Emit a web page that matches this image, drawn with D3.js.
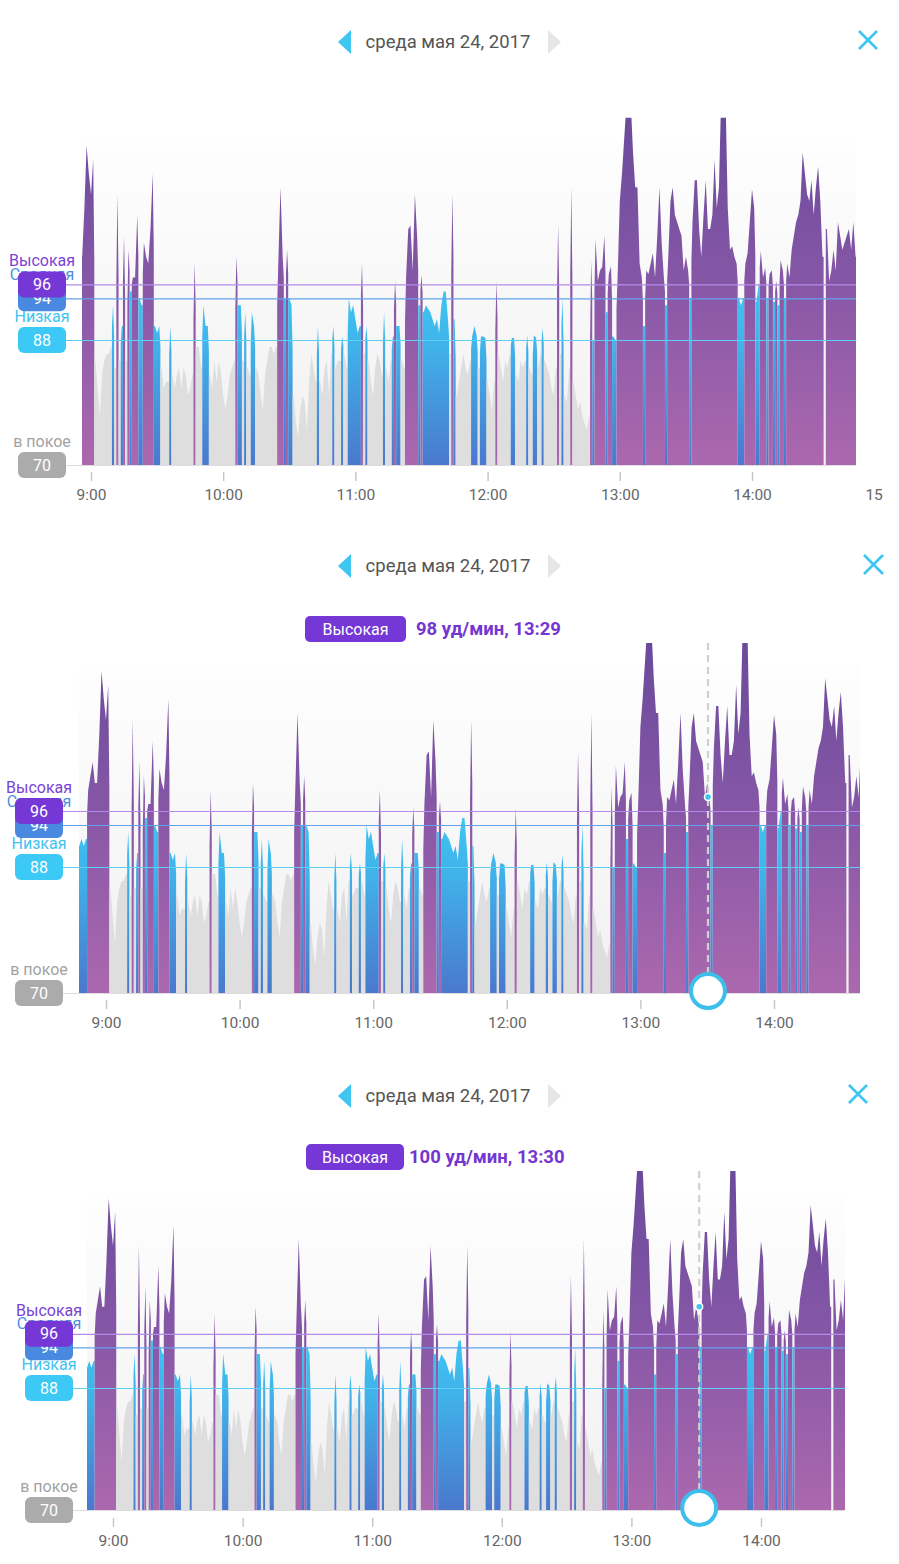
<!DOCTYPE html>
<html><head><meta charset="utf-8">
<script src="https://cdn.jsdelivr.net/npm/d3@7"></script>
<style>body{margin:0;background:#fff;} svg{display:block;font-family:Roboto, "Noto Sans", sans-serif;}</style>
</head><body>
<svg id="chart" width="899" height="1564"></svg>
<script>
// ---------------- DATA ----------------
const dateLabel = "среда мая 24, 2017";
const startTime = "8:48";          // time of the first sample, one sample per minute
const heartRate = [
  91,92,91,92,99,101,103,100,100,107,116,112,              // 8:48 - 8:59
  109,114,85,81,77,83,85,86,86,87,                          // 9:00
  93,84,109,85,90,103,85,101,95,97,
  97,106,94,93,102,100,99,104,112,90,
  89,90,84,81,82,82,90,83,81,83,
  84,81,84,83,80,81,83,99,87,87,
  84,93,90,90,83,81,85,82,85,83,
  80,78,80,83,84,85,100,93,93,85,                           // 10:00
  92,84,83,92,90,84,83,80,78,83,
  85,87,87,86,87,99,110,100,94,101,
  94,93,80,76,74,78,80,79,75,82,
  86,84,82,90,82,80,84,85,80,86,
  90,84,85,85,88.5,86,84,94,92,93,
  91,89,90,99,86,90,85,82,80,84,                            // 11:00
  86,85,83,92,84,82,85,88.5,96.5,90,
  90,85,84,97,104,104.5,98,109,103,93,
  97.4,92,93,92.5,92,91,90,91,89,93,
  95,95,91,86,109,91,80,82,84,86,
  84,83,85,88.5,90,88.7,84,88.5,88.5,88.3,
  82,80,78,82,96.5,86,84,82,85,84,                          // 12:00
  86,88.3,88.3,83,82,85,84,85,88.7,84,
  83,88.7,88.3,84,86,89.7,85,84,83,81,
  80,84,104.6,86,94,80,79,84,110,82,
  80,78,79,77,76,75,77,99.5,88,102.5,
  96.5,98,98.5,103,92,97.5,98.6,88.5,88,97,
  108,112,117,122,124,122,115,110,110,99,                   // 13:00
  97,90,98,97.5,99,100.5,97,103,110,102,
  97,93,100,108,110,106,105,104,103,98,
  100,98,94,105,111,111,104,100,106,111,
  104,104,106,114,107,110,123,121,123,107,
  101,101.5,100,99,94,93,94,99,100.5,105,
  109.7,107,93.5,96,100.8,97,98.4,94,97.5,98,               // 14:00
  93.5,96.5,93,99.5,98,94,99,97,101,103,
  105,106,108,115,112,109,108,111,106,110,
  113,108,100,null,104,96.5,98,101,98,105,
  103,101,102,103,104,101,105,100
];
const zoneNames  = ["Высокая", "Средняя", "Низкая", "в покое"];
const zoneValues = [96, 94, 88, 70];
const tickLabels = ["9:00", "10:00", "11:00", "12:00", "13:00", "14:00", "15:00"];
const yMax = 120;
const unit = "уд/мин";
const selectedZone  = [null, "Высокая", "Высокая"];
const selectedTime  = [null, "13:29", "13:30"];
const selectedValue = [null, 98, 100];

// ---------------- LAYOUT ----------------
const panels = [
  {header:42,   tip:null, x9:91,  x14:752, left:82, right:856, base:465,  y88:340,  pillCx:42, close:[859,31,18],  axisClip:883, axisMax:890, tickOff:7, mOff:0},
  {header:566,  tip:629,  x9:106, x14:774, left:79, right:860, base:993,  y88:867,  pillCx:39, close:[864,555,19], axisClip:899, axisMax:870, tickOff:7, mOff:3},
  {header:1096, tip:1157, x9:113, x14:761, left:87, right:845, base:1510, y88:1388, pillCx:49, close:[849,1085,18], axisClip:899, axisMax:870, tickOff:8, mOff:3}
];
const zoneColor = {"Высокая":"#7537d6", "Средняя":"#4a89e0", "Низкая":"#3cc9f5", "в покое":"#ababab"};
const zoneText  = {"Высокая":"#7a43d8", "Средняя":"#4b8fe2", "Низкая":"#3fc3f0", "в покое":"#a2a2a2"};
const lineColor = {"Высокая":"#b48be8", "Средняя":"#62a2ec", "Низкая":"#5ccff4", "в покое":"#dddddd"};

const toMin = s => { const [h,m] = s.split(":").map(Number); return h*60 + m; };
const t0 = toMin(startTime);
const pts = heartRate.map((v,i) => ({t: t0 + i, v}));
const zoneOf = v => v > zoneValues[0] ? 2 : (v >= zoneValues[2] ? 1 : 0);

const svg = d3.select("#chart");
const defs = svg.append("defs");

panels.forEach((P, pi) => {
  const x = d3.scaleLinear().domain([toMin("9:00"), toMin("14:00")]).range([P.x9, P.x14]);
  const y = d3.scaleLinear().domain([70, 88]).range([P.base, P.y88]);
  const g = svg.append("g");

  // gradients
  const mk = (id, stops, y1, y2) => {
    const lg = defs.append("linearGradient").attr("id", id).attr("gradientUnits","userSpaceOnUse")
      .attr("x1",0).attr("x2",0).attr("y1",y1).attr("y2",y2);
    stops.forEach(s => lg.append("stop").attr("offset", s[0]).attr("stop-color", s[1]));
  };
  mk("bg"+pi,   [[0,"#fefefe"],[1,"#f1f1f3"]], y(117), y(70));
  mk("pur"+pi,  [[0,"#6a4a9b"],[0.45,"#8556a6"],[1,"#ab68ae"]], y(yMax), y(70));
  mk("blu"+pi,  [[0,"#3dc8f2"],[0.35,"#40b2ea"],[1,"#4a78cd"]], y(96), y(70));
  const fills = ["#dedede", "url(#blu"+pi+")", "url(#pur"+pi+")"];

  defs.append("clipPath").attr("id","clip"+pi).append("rect")
    .attr("x",P.left).attr("y",y(yMax)).attr("width",P.right-P.left).attr("height",y(70)-y(yMax));

  // header
  const hy = P.header;
  g.append("path").attr("d",`M338,${hy} L351,${hy-12} L351,${hy+12} Z`).attr("fill","#3cc6f0");
  g.append("path").attr("d",`M561,${hy} L548,${hy-12} L548,${hy+12} Z`).attr("fill","#e6e6e6");
  g.append("text").attr("x",448).attr("y",hy).attr("dy","0.35em").attr("text-anchor","middle")
    .attr("font-size",18.5).attr("fill","#555").text(dateLabel);
  const [cx0, cy0, cs] = P.close;
  g.append("path").attr("d",`M${cx0},${cy0} L${cx0+cs},${cy0+cs} M${cx0+cs},${cy0} L${cx0},${cy0+cs}`)
    .attr("stroke","#3cc6f0").attr("stroke-width",2.6).attr("fill","none");

  // tooltip
  if (P.tip) {
    const zn = selectedZone[pi];
    const pw = pi === 1 ? 101 : 98;
    const px = pi === 1 ? 305 : 306;
    g.append("rect").attr("x",px).attr("y",P.tip-13).attr("width",pw).attr("height",26).attr("rx",5)
      .attr("fill",zoneColor[zn]);
    g.append("text").attr("x",px+pw/2).attr("y",P.tip).attr("dy","0.35em").attr("text-anchor","middle")
      .attr("font-size",16).attr("fill","#fff").text(zn);
    g.append("text").attr("x",px+pw+(pi===1?10:5)).attr("y",P.tip).attr("dy","0.35em")
      .attr("font-size",18.5).attr("font-weight","bold").attr("fill","#7436d0")
      .text(`${selectedValue[pi]} ${unit}, ${selectedTime[pi]}`);
  }

  // background
  g.append("rect").attr("x",P.left).attr("y",y(117)).attr("width",P.right-P.left)
    .attr("height",y(70)-y(117)).attr("fill","url(#bg"+pi+")");

  // data columns, grouped in runs of the same zone
  const runs = []; let cur = null;
  pts.forEach((p,i) => {
    if (p.v == null) { cur = null; return; }
    const z = zoneOf(p.v);
    if (!cur || cur.z !== z) { cur = {z, i0:i, i1:i}; runs.push(cur); } else cur.i1 = i;
  });
  const edge = (i, j) => {
    const a = pts[i].v, b = pts[j] ? pts[j].v : null;
    if (b == null) return a;
    return zoneOf(b) > zoneOf(a) ? a : (a + b) / 2;
  };
  const line = d3.line().x(d => x(d.t)).y(d => y(Math.max(70, d.v)));
  const dg = g.append("g").attr("clip-path","url(#clip"+pi+")");
  runs.forEach(r => {
    const arr = [{t: pts[r.i0].t - 0.5, v: 70}, {t: pts[r.i0].t - 0.5, v: edge(r.i0, r.i0-1)}];
    for (let i = r.i0; i <= r.i1; i++) arr.push(pts[i]);
    arr.push({t: pts[r.i1].t + 0.5, v: edge(r.i1, r.i1+1)}, {t: pts[r.i1].t + 0.5, v: 70});
    dg.append("path").attr("d", line(arr) + "Z").attr("fill", fills[r.z]);
  });

  // threshold lines
  zoneNames.forEach((zn, k) => {
    g.append("line").attr("x1",P.pillCx+24).attr("x2",P.right).attr("y1",y(zoneValues[k])+0.5).attr("y2",y(zoneValues[k])+0.5)
      .attr("stroke",lineColor[zn]).attr("stroke-width",1.2);
  });

  // left labels & pills (drawn in an order that reproduces the overlap)
  const order = [1, 0, 2, 3];
  const lg2 = g.append("g");
  order.forEach(k => {
    const zn = zoneNames[k], yy = y(zoneValues[k]);
    lg2.append("text").attr("x",P.pillCx).attr("y",yy-18).attr("text-anchor","middle")
      .attr("font-size",16).attr("fill",zoneText[zn]).text(zn);
  });
  order.forEach(k => {
    const zn = zoneNames[k], yy = y(zoneValues[k]);
    const pg = lg2.append("g");
    pg.append("rect").attr("x",P.pillCx-24).attr("y",yy-13).attr("width",48).attr("height",26).attr("rx",6)
      .attr("fill",zoneColor[zn]);
    pg.append("text").attr("x",P.pillCx).attr("y",yy).attr("dy","0.35em").attr("text-anchor","middle")
      .attr("font-size",16).attr("fill","#fff").text(zoneValues[k]);
  });

  // axis (clipped on an untransformed wrapper)
  defs.append("clipPath").attr("id","aclip"+pi).append("rect")
    .attr("x",0).attr("y",P.base).attr("width",P.axisClip).attr("height",60);
  const tickMins = tickLabels.map(toMin).filter(m => x(m) <= P.axisMax);
  const axis = d3.axisBottom(x).tickValues(tickMins)
    .tickFormat(m => tickLabels[tickLabels.map(toMin).indexOf(m)]).tickSize(9).tickPadding(8);
  const aw = g.append("g").attr("clip-path","url(#aclip"+pi+")");
  const ag = aw.append("g").attr("transform",`translate(0,${P.base + P.tickOff})`).call(axis);
  ag.select(".domain").remove();
  ag.selectAll(".tick line").attr("stroke","#c4c4c4").attr("stroke-width",1.4);
  ag.selectAll(".tick text").attr("fill","#666").attr("font-size",15.5).attr("font-family","Roboto, sans-serif");

  // marker
  if (P.tip) {
    const mx = x(toMin(selectedTime[pi])) + P.mOff;
    g.append("line").attr("x1",mx).attr("x2",mx).attr("y1",y(yMax)).attr("y2",P.base-10)
      .attr("stroke","#d0d0d0").attr("stroke-width",2.2).attr("stroke-dasharray","7,5");
    g.append("circle").attr("cx",mx).attr("cy",y(selectedValue[pi])).attr("r",3.5)
      .attr("fill","#3ec6ee").attr("stroke","#fff").attr("stroke-width",1.5);
    g.append("circle").attr("cx",mx).attr("cy",P.base-2).attr("r",17)
      .attr("fill","#fff").attr("stroke","#3cbfeb").attr("stroke-width",4);
  }
});
</script>
</body></html>
